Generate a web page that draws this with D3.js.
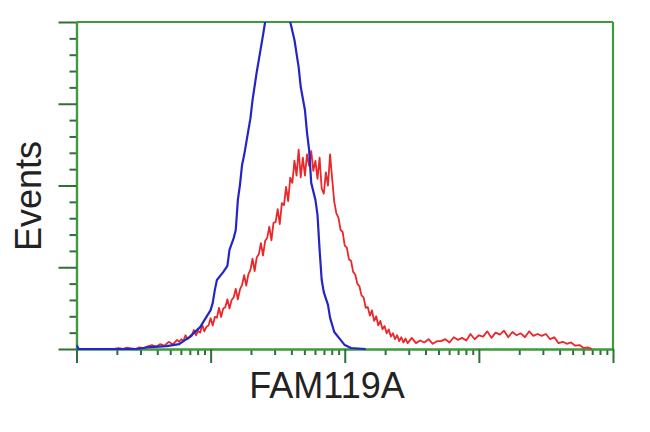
<!DOCTYPE html>
<html><head><meta charset="utf-8">
<script src="https://cdn.jsdelivr.net/npm/d3@7"></script>
<style>html,body{margin:0;padding:0;background:#fff;}svg{display:block;}</style>
</head><body>
<svg id="chart" width="650" height="432"></svg>
<script>
// Histogram data: [channel (256-channel log scale, 4 decades), events]
const blueSeries = [
 [0,1.2],[1,0],[18,0],[29,0],[35,0.6],[43,0.9],[49,1.5],[54,3.7],[59,6.7],[62,9.8],[64,11.9],[65,14.1],
 [66,18.0],[67,21.1],[70,23.5],[72,25.4],[73,30.3],[75,33.9],[76,36.4],[77,45.6],[78,50.2],[79,56.3],
 [80,59.3],[83,70.6],[84,76.1],[86,84.7],[87,88.4],[89,96],[90,100],[92,108],[95,118],[98,115],[101,106],
 [102,100],[104,94.5],[106,86.2],[107,80.1],[109,73.1],[110,66.1],[111,60.9],[112,50.8],[114,45.6],
 [115,41],[116,30.3],[117,21.1],[118,17.4],[120,13.5],[121,9.5],[123,5.2],[126,2.8],[128,1.2],[131,0.3],[138,0]
];
const redSeries = [
 [18,0],[20,0.3],[22,0],[24,0.4],[26,0.2],[28,0],[30,0.5],[32,0.3],[34,0.8],[36,1.2],[38,0.7],[40,1.5],
 [42,1.0],[44,2.2],[46,1.4],[48,2.8],[49,2.2],[50,3.0],[51,2.4],[52,4.2],[53,3.0],[54,3.6],[55,4.0],
 [56,5.8],[57,4.2],[58,5.5],[59,5.0],[60,7.4],[61,5.4],[62,6.8],[63,7.2],[64,9.4],[65,7.2],[66,9.8],
 [67,9.6],[68,12.6],[69,9.8],[70,12.4],[71,12.8],[72,15.2],[73,12.4],[74,15.0],[75,15.8],[76,18.4],
 [77,15.2],[78,18.2],[79,19.6],[80,22.6],[81,19.4],[82,22.8],[83,24.2],[84,27.6],[85,23.8],[86,28.0],
 [87,29.0],[88,32.4],[89,28.6],[90,33.0],[91,34.0],[92,37.4],[93,33.2],[94,38.6],[95,38.8],[96,42.8],
 [97,38.2],[98,44.6],[99,44.0],[100,49.6],[101,45.2],[102,52.4],[103,50.8],[104,57.6],[105,53.0],
 [106,61.0],[107,52.5],[108,58.5],[109,53.0],[110,59.5],[111,56.0],[112,60.5],[113,54.5],[114,57.5],
 [115,52.0],[116,58.5],[117,49.0],[118,47.5],[119,54.0],[120,50.0],[121,59.5],[122,52.0],[123,45.0],
 [124,41.5],[125,40.2],[126,36.4],[127,35.8],[128,31.6],[129,31.0],[130,27.4],[131,27.0],[132,23.6],
 [133,22.8],[134,20.0],[135,19.2],[136,16.4],[137,15.8],[138,12.6],[139,12.8],[140,10.2],[141,11.8],
 [142,8.6],[143,10.0],[144,7.2],[145,8.6],[146,6.0],[147,7.0],[148,4.8],[149,6.0],[150,3.8],[151,4.8],
 [152,3.0],[153,4.2],[154,2.4],[155,3.6],[156,2.0],[157,3.2],[158,1.8],[160,3.4],[162,1.8],[164,2.6],
 [166,2.0],[168,3.0],[170,1.6],[172,2.4],[174,2.4],[176,3.0],[178,2.0],[180,3.6],[182,2.8],[184,3.4],
 [186,2.6],[188,4.6],[190,3.0],[192,4.2],[194,3.8],[196,5.4],[198,3.4],[200,5.0],[202,4.4],[204,5.6],
 [206,3.6],[208,5.2],[210,4.2],[212,4.8],[214,3.6],[216,5.4],[218,4.0],[220,4.6],[222,4.0],[224,4.6],
 [226,3.0],[228,3.6],[230,1.8],[232,2.2],[234,1.6],[236,2.0],[238,1.0],[240,1.2],[242,0.3],[244,0.5],[246,0]
];
const xMajorTicks = [1, 10, 100, 1000, 10000];
const xMinorTicks = [2,3,4,5,6,7,8,9,20,30,40,50,60,70,80,90,200,300,400,500,600,700,800,900,2000,3000,4000,5000,6000,7000,8000,9000];
const yMajorTicks = [0, 25, 50, 75, 100];
const yMinorTicks = [5,10,15,20,30,35,40,45,55,60,65,70,80,85,90,95];
const xLabel = "FAM119A";
const yLabel = "Events";

const svg = d3.select("#chart");
const L = 76.5, R = 613, T = 22, B = 349;
const xCh = d3.scaleLinear().domain([0, 256]).range([L, R]);
const xLog = d3.scaleLog().domain([1, 10000]).range([L, R]);
const y = d3.scaleLinear().domain([0, 100]).range([B, T]);

const frameColor = "#3d9b3d";
const tickColor = "#2f6f3a";

svg.append("defs").append("clipPath").attr("id","plotclip")
  .append("rect").attr("x", L).attr("y", T).attr("width", R - L).attr("height", B - T + 2);

// X axes
const gxMinor = svg.append("g").attr("transform", `translate(0,${B})`)
  .call(d3.axisBottom(xLog).tickValues(xMinorTicks).tickSize(6).tickSizeOuter(0).tickFormat(""));
const gxMajor = svg.append("g").attr("transform", `translate(0,${B})`)
  .call(d3.axisBottom(xLog).tickValues(xMajorTicks).tickSize(14).tickSizeOuter(0).tickFormat(""));
// Y axes
const gyMinor = svg.append("g").attr("transform", `translate(${L},0)`)
  .call(d3.axisLeft(y).tickValues(yMinorTicks).tickSize(7).tickSizeOuter(0).tickFormat(""));
const gyMajor = svg.append("g").attr("transform", `translate(${L},0)`)
  .call(d3.axisLeft(y).tickValues(yMajorTicks).tickSize(18).tickSizeOuter(0).tickFormat(""));

[gxMinor, gxMajor, gyMinor, gyMajor].forEach(g => {
  g.selectAll(".tick line").attr("stroke", tickColor).attr("stroke-width", 2);
  g.select(".domain").attr("stroke", frameColor).attr("stroke-width", 2.2);
});

// frame top and right
svg.append("line").attr("x1", L).attr("x2", R).attr("y1", T).attr("y2", T)
  .attr("stroke", frameColor).attr("stroke-width", 2.2);
svg.append("line").attr("x1", R).attr("x2", R).attr("y1", T).attr("y2", B)
  .attr("stroke", frameColor).attr("stroke-width", 2.2);

const line = d3.line().x(d => xCh(d[0])).y(d => y(d[1]));
const plot = svg.append("g").attr("clip-path", "url(#plotclip)");
plot.append("path").datum(redSeries).attr("d", line)
  .attr("fill", "none").attr("stroke", "#e8282a").attr("stroke-width", 1.8).attr("stroke-linejoin","round");
plot.append("path").datum(blueSeries).attr("d", line)
  .attr("fill", "none").attr("stroke", "#2424c8").attr("stroke-width", 2.2).attr("stroke-linejoin","round");

// labels
svg.append("text").attr("x", 327).attr("y", 398).attr("text-anchor", "middle")
  .attr("font-family", "Liberation Sans, Arial, sans-serif").attr("font-size", 36)
  .attr("fill", "#222").text(xLabel);
svg.append("text").attr("transform", "translate(41,196) rotate(-90)").attr("text-anchor", "middle")
  .attr("font-family", "Liberation Sans, Arial, sans-serif").attr("font-size", 36)
  .attr("fill", "#222").text(yLabel);
</script>
</body></html>
